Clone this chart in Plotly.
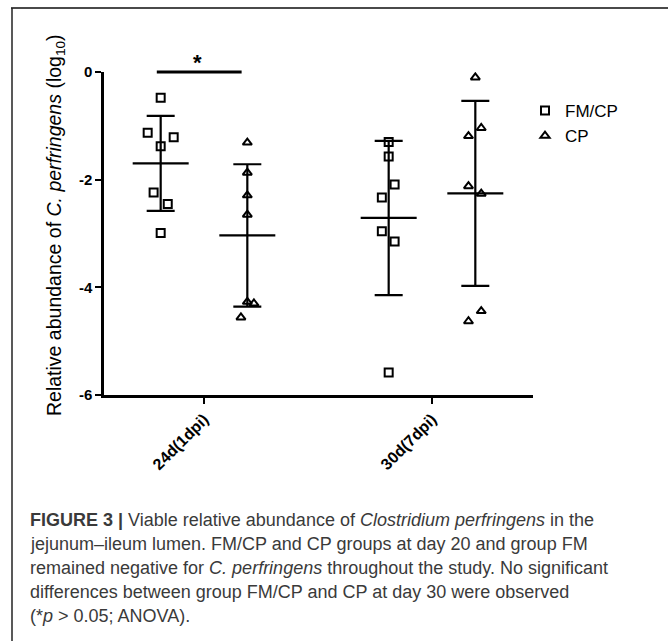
import numpy as np
import plotly.graph_objects as go

# ---------------- data ----------------
categories = ["24d(1dpi)", "30d(7dpi)"]
groups = ["FM/CP", "CP"]

fmcp_24d = [-0.48, -1.13, -1.21, -1.38, -2.24, -2.45, -2.99]
cp_24d = [-1.31, -1.87, -2.29, -2.65, -4.27, -4.30, -4.56]
fmcp_30d = [-1.30, -1.57, -2.09, -2.33, -2.96, -3.15, -5.58]
cp_30d = [-0.10, -1.04, -1.19, -2.12, -2.26, -4.63, -4.44]

# horizontal scatter spread of points (category-axis units)
jit_fmcp_24d = [0, -0.057, 0.057, 0, -0.031, 0.031, 0]
jit_cp_24d = [0, 0, 0, 0, 0, 0.029, -0.028]
jit_fmcp_30d = [0, 0, 0.026, -0.030, -0.030, 0.026, 0]
jit_cp_30d = [0, 0.026, -0.030, -0.030, 0.026, -0.030, 0.026]

y_ticks = [0, -2, -4, -6]
y_ticktext = ["0", "-2", "-4", "-6"]

# ---------------- layout geometry ----------------
W, H = 668, 641
L, R, T, B = 104, 533, 72, 395   # plot area pixels
GROUP_OFF = 0.19
FONT = "Liberation Sans, Arial, Helvetica"


def xp(px):
    return (px - L) / (R - L)


def yp(py):
    return (B - py) / (B - T)


fig = go.Figure()

series = [
    ("FM/CP", 0, -GROUP_OFF, fmcp_24d, jit_fmcp_24d, "square-open", True),
    ("CP", 0, GROUP_OFF, cp_24d, jit_cp_24d, "triangle-up-open", True),
    ("FM/CP", 1, -GROUP_OFF, fmcp_30d, jit_fmcp_30d, "square-open", False),
    ("CP", 1, GROUP_OFF, cp_30d, jit_cp_30d, "triangle-up-open", False),
]

# mean +/- SD bars first (behind points)
for name, ci, off, vals, jit, sym, leg in series:
    v = np.array(vals)
    m = v.mean()
    sd = v.std(ddof=1)
    fig.add_trace(go.Scatter(
        x=[ci + off], y=[m], mode="markers", showlegend=False, hoverinfo="skip",
        marker=dict(symbol="line-ew", size=40, color="black",
                    line=dict(color="black", width=2.2)),
        error_y=dict(type="data", array=[sd], visible=True, color="black",
                     thickness=2.2, width=14),
    ))

for name, ci, off, vals, jit, sym, leg in series:
    fig.add_trace(go.Scatter(
        x=[ci + off + j for j in jit], y=vals, mode="markers", name=name,
        showlegend=leg, legendgroup=name,
        marker=dict(symbol=sym, size=8, color="black",
                    line=dict(color="black", width=2)),
    ))

# significance bar
fig.add_shape(type="line", xref="x", yref="paper", x0=-0.207, x1=0.165, y0=1, y1=1,
              line=dict(color="black", width=3))
fig.add_annotation(x=-0.03, y=yp(62), xref="x", yref="paper", text="<b>*</b>",
                   xanchor="center", yanchor="middle",
                   showarrow=False, font=dict(size=22, color="black", family=FONT))

# y-axis title
fig.add_annotation(
    x=xp(55), y=yp(225), xref="paper", yref="paper", textangle=-90,
    xanchor="center", yanchor="middle",
    text="Relative abundance of <i>C. perfringens</i> (log<sub>10</sub>)",
    showarrow=False, font=dict(size=19.5, color="black", family=FONT),
)

# frame lines
fig.add_shape(type="line", xref="paper", yref="paper", x0=xp(11), x1=xp(668),
              y0=yp(8), y1=yp(8), line=dict(color="#4a4a4a", width=2))
fig.add_shape(type="line", xref="paper", yref="paper", x0=xp(12), x1=xp(12),
              y0=yp(8), y1=yp(641), line=dict(color="#222222", width=1.5))

# caption
caption = [
    "<b>FIGURE 3</b> <b>|</b> Viable relative abundance of <i>Clostridium perfringens</i> in the",
    "jejunum\u2013ileum lumen. FM/CP and CP groups at day 20 and group FM",
    "remained negative for <i>C. perfringens</i> throughout the study. No significant",
    "differences between group FM/CP and CP at day 30 were observed",
    "(*<i>p</i> &gt; 0.05; ANOVA).",
]
cap_y = [520, 544, 568, 592, 616]
for line, cy in zip(caption, cap_y):
    fig.add_annotation(x=xp(28), y=yp(cy), xref="paper", yref="paper",
                       xanchor="left", yanchor="middle", text=line, showarrow=False,
                       font=dict(size=18, color="#3a3a3a", family=FONT))

fig.update_layout(
    width=W, height=H,
    margin=dict(l=L, r=W - R, t=T, b=H - B, autoexpand=False),
    paper_bgcolor="white", plot_bgcolor="white",
    font=dict(family=FONT, color="black"),
    legend=dict(x=xp(525), y=yp(93), xanchor="left", yanchor="top",
                font=dict(size=17, color="black"), bgcolor="rgba(0,0,0,0)",
                tracegroupgap=0, itemwidth=30),
    xaxis=dict(range=[-0.4386, 1.443], tickvals=[0, 1], ticktext=categories,
               tickangle=-45, showgrid=False, zeroline=False, showline=True,
               linecolor="black", linewidth=2.5, ticks="outside", ticklen=6,
               tickwidth=2, tickcolor="black",
               tickfont=dict(size=16, color="black", family=FONT, weight="bold")),
    yaxis=dict(range=[-6, 0], tickvals=y_ticks, ticktext=y_ticktext,
               showgrid=False, zeroline=False, showline=True, linecolor="black",
               linewidth=2.5, ticks="outside", ticklen=6, tickwidth=2,
               tickcolor="black",
               tickfont=dict(size=15, color="black", family=FONT, weight="bold")),
)

fig.write_html("out.html", config={"displayModeBar": False},
               post_script="document.body.style.margin='0';document.body.style.overflow='hidden';")
